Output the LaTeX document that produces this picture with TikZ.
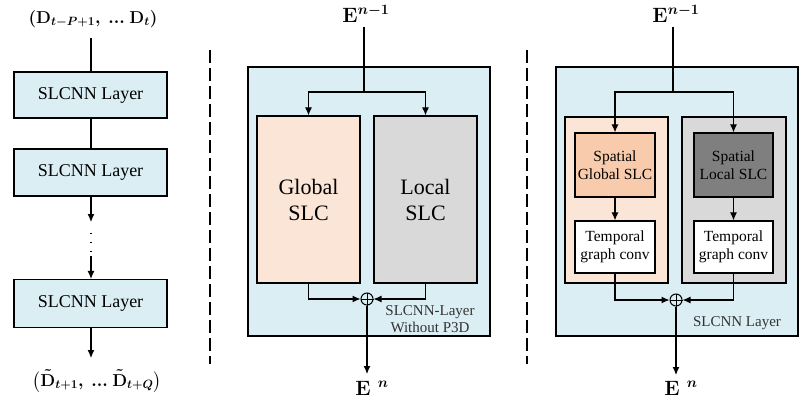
\documentclass[tikz,border=0pt]{standalone}
\usepackage{fontspec}
\setmainfont{Liberation Serif}
\usepackage{amsmath}
\usetikzlibrary{arrows.meta}
\definecolor{lblue}{RGB}{218,238,243}
\definecolor{peach}{RGB}{251,229,214}
\definecolor{lgray}{RGB}{217,217,217}
\definecolor{dpeach}{RGB}{248,203,173}
\definecolor{dgray}{RGB}{127,127,127}
\tikzset{
  mybox/.style={draw, line width=1.2pt, inner sep=0pt, align=center},
  mylayer/.style={mybox, fill=lblue, minimum width=153pt, font=\fontsize{18}{21}\selectfont},
  mybig/.style={mybox, font=\fontsize{22}{26}\selectfont, minimum width=103pt, minimum height=167pt},
  mysmall/.style={mybox, font=\fontsize{15.5}{18}\selectfont, minimum width=80pt},
  myconn/.style={line width=1.1pt},
  myarr/.style={line width=1.1pt, -{Latex[length=8pt,width=7pt]}},
  mysep/.style={line width=2.2pt, dash pattern=on 13pt off 5pt},
  mysum/.style={circle, draw, line width=1pt, fill=lblue, minimum size=12pt, inner sep=0pt},
  mylab/.style={inner sep=1pt, font=\fontsize{20}{24}\selectfont},
  mydlab/.style={inner sep=1pt, font=\fontsize{18}{21}\selectfont},
  mynote/.style={inner sep=0pt, align=center, font=\fontsize{15}{17}\selectfont, text=black!80}
}
\newcommand{\dinlabel}{$\boldsymbol{(\mathbf{D}_{t-P+1},\:{.}{.}{.}\:\mathbf{D}_t)}$}
\newcommand{\doutlabel}{$\boldsymbol{\bigl(\tilde{\mathbf{D}}_{t+1},\:{.}{.}{.}\:\tilde{\mathbf{D}}_{t+Q}\bigr)}$}
\newcommand{\einlabel}{$\boldsymbol{\mathbf{E}^{n-1}}$}
\newcommand{\eoutlabel}{$\boldsymbol{\mathbf{E}^{\;\,n}}$}
\begin{document}
\begin{tikzpicture}[x=1pt,y=-1pt]
\useasboundingbox (0,0) rectangle (805,404);

% ---------- left column ----------
\node[mydlab] (din) at (93,19) {\dinlabel};
\node[mylayer, minimum height=46pt] (l1) at (90.5,95) {SLCNN Layer};
\node[mylayer, minimum height=47pt] (l2) at (90.5,172.5) {SLCNN Layer};
\node[mylayer, minimum height=48pt] (l3) at (90.5,303.5) {SLCNN Layer};
\node[mydlab] (dout) at (97,381) {\doutlabel};
\coordinate (dinb) at (91,38);
\coordinate (da) at (91,222);
\coordinate (db) at (91,232.5);
\coordinate (dc) at (91,252);
\coordinate (de) at (91,256);
\coordinate (dd) at (91,358);
\draw[myconn] (dinb) -- (dinb |- l1.north);
\draw[myconn] (dinb |- l1.south) -- (dinb |- l2.north);
\draw[myarr] (da |- l2.south) -- (da);
\draw[line width=1.4pt, dash pattern=on 1.4pt off 7.6pt] (db) -- (dc);
\draw[myarr] (de) -- (de |- l3.north);
\draw[myarr] (dd |- l3.south) -- (dd);

% ---------- separators ----------
\draw[mysep] (210,50) -- (210,364);
\draw[mysep] (527,50) -- (527,364);

% ---------- middle panel ----------
\node[mybox, fill=lblue, minimum width=242pt, minimum height=269pt] (oa) at (369,201.5) {};
\node[mylab] (ea) at (366,14) {\einlabel};
\node[mybig, fill=peach] (glob) at (308.5,199.5) {Global\\SLC};
\node[mybig, fill=lgray] (loc) at (425.5,199.5) {Local\\SLC};
\node[mysum] (sa) at (367,299) {};
\draw[line width=0.8pt] (sa.north) -- (sa.south) (sa.west) -- (sa.east);
\node[mylab] (eao) at (372,388) {\eoutlabel};
\node[mynote] (na) at (430,319) {SLCNN-Layer\\Without P3D};
\coordinate (spa) at (364,92);
\coordinate (eab) at (364,27);
\coordinate (eaend) at (367,374);
\draw[myconn] (eab) -- (spa);
\draw[myarr] (spa) -| (glob.north);
\draw[myarr] (spa) -| (loc.north);
\draw[myarr] (glob.south) |- (sa.west);
\draw[myarr] (loc.south) |- (sa.east);
\draw[myarr] (sa.south) -- (eaend);

% ---------- right panel ----------
\node[mybox, fill=lblue, minimum width=242pt, minimum height=269pt] (ob) at (677,201.5) {};
\node[mylab] (eb) at (676,14) {\einlabel};
\node[mybox, fill=peach, minimum width=103pt, minimum height=166pt] (pg) at (616.5,200) {};
\node[mybox, fill=lgray, minimum width=104pt, minimum height=166pt] (pl) at (734,200) {};
\node[mysmall, fill=dpeach, minimum height=64pt] (sg) at (615,165) {Spatial\\Global SLC};
\node[mysmall, fill=dgray, minimum height=64pt, minimum width=79pt] (sl) at (733.5,165) {Spatial\\Local SLC};
\node[mysmall, fill=white, minimum height=52pt] (tg) at (615,247) {Temporal\\graph conv};
\node[mysmall, fill=white, minimum height=52pt, minimum width=79pt] (tl) at (733.5,247) {Temporal\\graph conv};
\node[mysum] (sb) at (676,300) {};
\draw[line width=0.8pt] (sb.north) -- (sb.south) (sb.west) -- (sb.east);
\node[mylab] (ebo) at (681,388) {\eoutlabel};
\node[mynote] (nb) at (737,323) {SLCNN Layer};
\coordinate (spb) at (673,92);
\coordinate (ebb) at (673,27);
\coordinate (ebend) at (676,375);
\draw[myconn] (ebb) -- (spb);
\draw[myarr] (spb) -| (sg.north);
\draw[myarr] (spb) -| (sl.north);
\draw[myarr] (sg.south) -- (tg.north);
\draw[myarr] (sl.south) -- (tl.north);
\draw[myarr] (tg.south) |- (sb.west);
\draw[myarr] (tl.south) |- (sb.east);
\draw[myarr] (sb.south) -- (ebend);
\end{tikzpicture}
\end{document}
